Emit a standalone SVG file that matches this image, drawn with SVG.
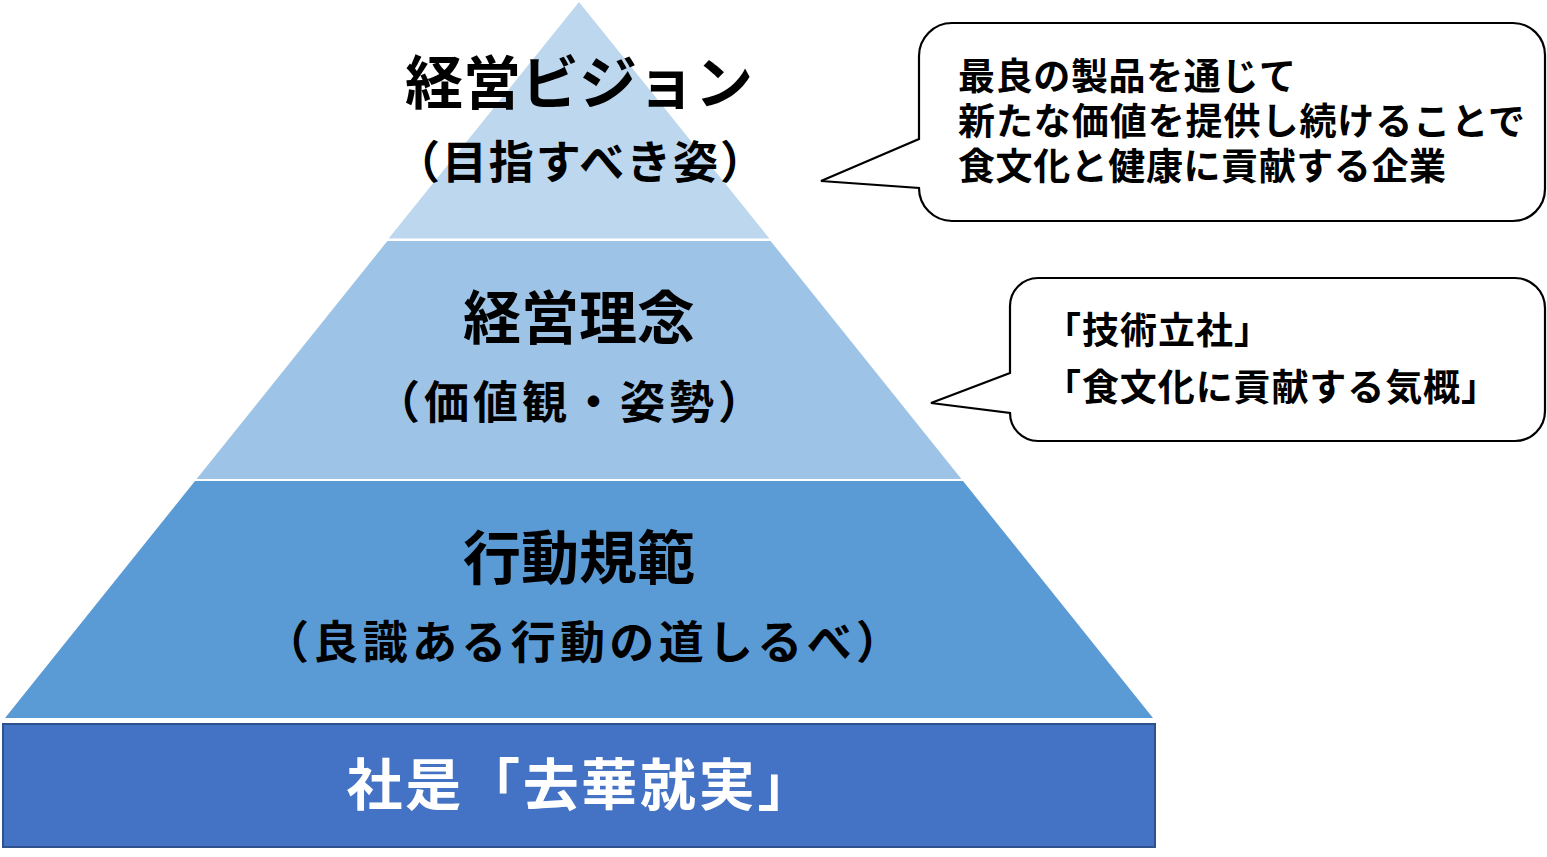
<svg xmlns="http://www.w3.org/2000/svg" width="1547" height="857" viewBox="0 0 1547 857">
<style>
.t{font-family:"Noto Sans CJK JP","Noto Sans CJK SC",sans-serif;font-weight:700;fill:#000}
.c{text-anchor:middle}
.title{font-size:58px}
.sub{font-size:45px}
.call{font-size:37px}
.bubble{fill:#fff;stroke:#000;stroke-width:2.2;stroke-linejoin:miter}
</style>
<rect width="1547" height="857" fill="#fff"/>
<g id="tier-vision">
<polygon points="579,2 769.4,238.5 388.6,238.5" fill="#BDD7EE"/>
<text class="t c title" x="579" y="104">経営ビジョン</text>
<text class="t c sub" x="580" y="179" textLength="370" lengthAdjust="spacing">（目指すべき姿）</text>
</g>
<g id="tier-philosophy">
<polygon points="387.4,241 770.6,241 961.4,479 196.6,479" fill="#9DC3E6"/>
<text class="t c title" x="579" y="339">経営理念</text>
<text class="t c sub" x="569" y="419" textLength="388" lengthAdjust="spacing">（価値観・姿勢）</text>
</g>
<g id="tier-conduct">
<polygon points="195,481 963,481 1153,718 5,718" fill="#5B9BD5"/>
<text class="t c title" x="579" y="579">行動規範</text>
<text class="t c sub" x="582.5" y="659" textLength="637" lengthAdjust="spacing">（良識ある行動の道しるべ）</text>
</g>
<g id="motto">
<rect x="3" y="724" width="1152" height="123" fill="#4472C4" stroke="#2F528F" stroke-width="2"/>
<text class="t c" x="580" y="805" font-size="56" textLength="467" lengthAdjust="spacing" style="fill:#fff">社是「去華就実」</text>
</g>
<g id="callout-vision">
<path class="bubble" d="M952,23 H1513 A32,32 0 0 1 1545,55 V189 A32,32 0 0 1 1513,221 H952 A33,33 0 0 1 919,188 L821,181 L919,139 V56 A33,33 0 0 1 952,23 Z"/>
<text class="t call" x="958" y="90" textLength="338" lengthAdjust="spacing">最良の製品を通じて</text>
<text class="t call" x="958" y="135" textLength="567" lengthAdjust="spacing">新たな価値を提供し続けることで</text>
<text class="t call" x="958" y="180" textLength="488" lengthAdjust="spacing">食文化と健康に貢献する企業</text>
</g>
<g id="callout-philosophy">
<path class="bubble" d="M1040,278 H1515 A30,30 0 0 1 1545,308 V411 A30,30 0 0 1 1515,441 H1038 A28,28 0 0 1 1010,413 L931,403 L1010,373 V306 A28,28 0 0 1 1038,278 Z"/>
<text class="t call" x="1044" y="344" textLength="227" lengthAdjust="spacing">「技術立社」</text>
<text class="t call" x="1044" y="401" textLength="454" lengthAdjust="spacing">「食文化に貢献する気概」</text>
</g>
</svg>
